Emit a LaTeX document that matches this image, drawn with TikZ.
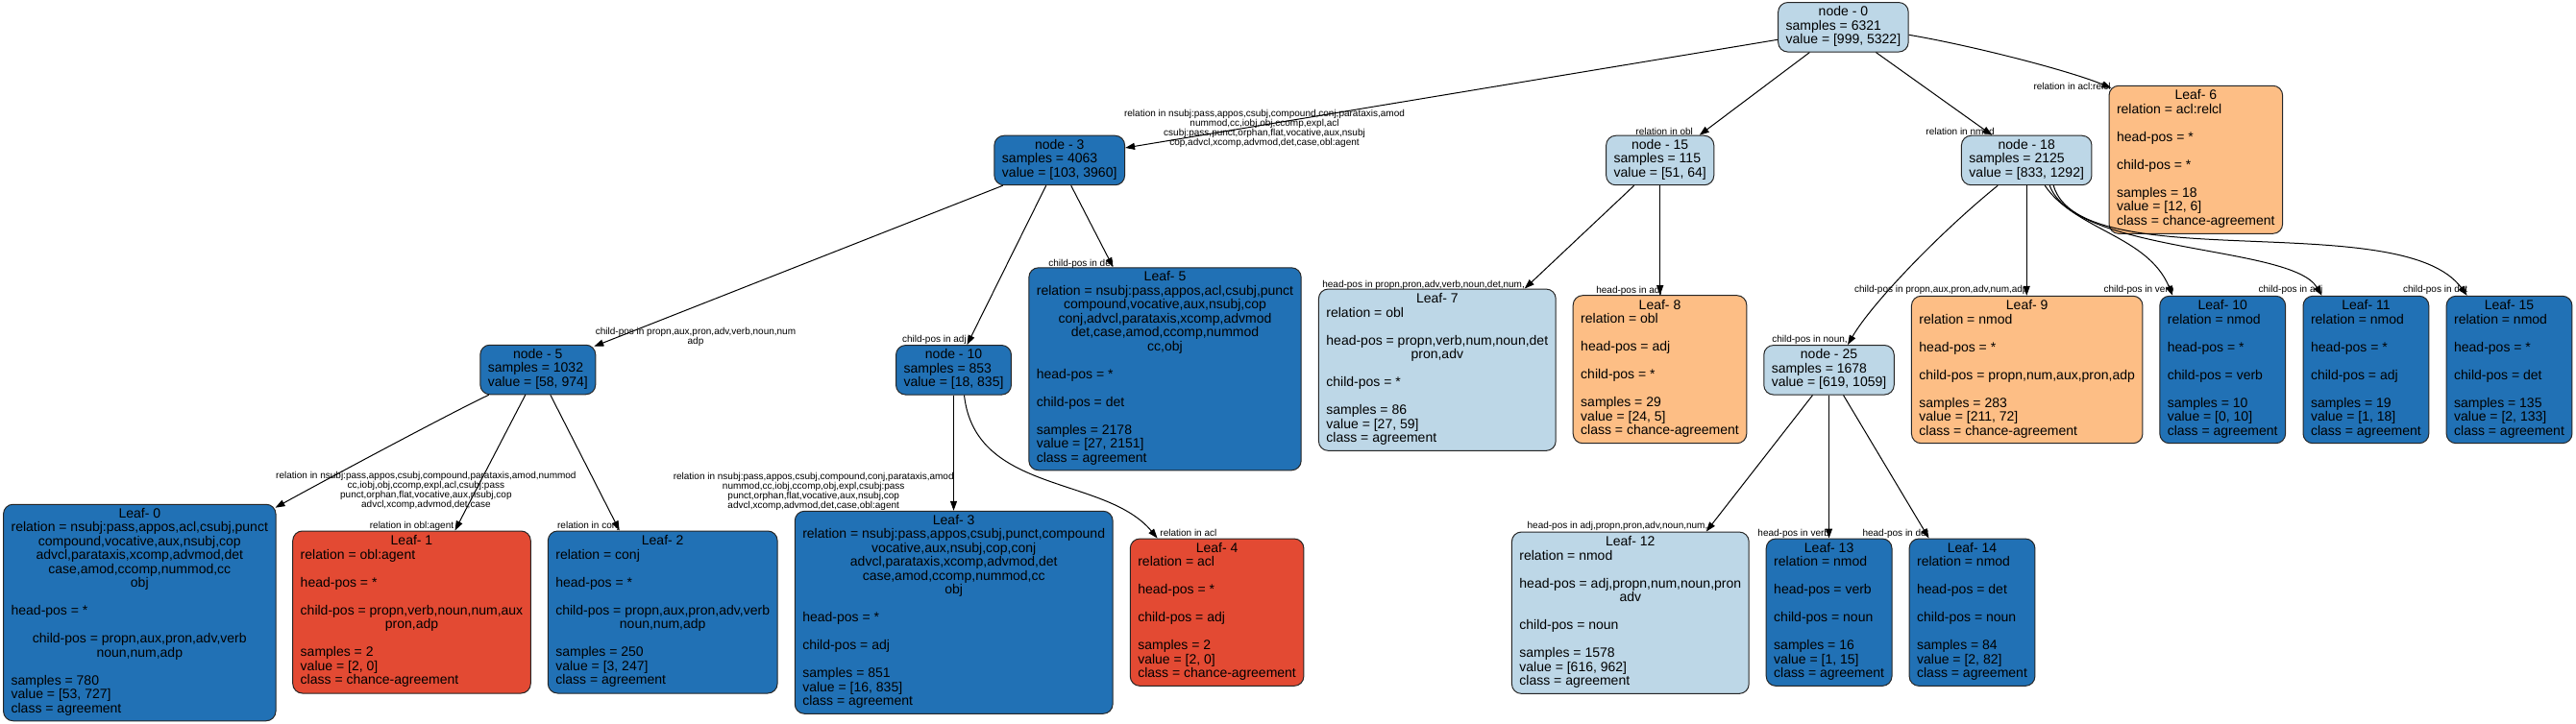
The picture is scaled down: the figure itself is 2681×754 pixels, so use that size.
\documentclass[tikz,border=0pt]{standalone}
\usepackage{fontspec}
\setmainfont{Liberation Sans}
\usetikzlibrary{arrows.meta,calc}
\definecolor{dkblue}{HTML}{2171B5}
\definecolor{ltblue}{HTML}{BDD7E7}
\definecolor{orng}{HTML}{FDBE85}
\definecolor{redc}{HTML}{E34A33}
\newcommand\nodefont{\fontsize{14pt}{14.5pt}\selectfont}
\newcommand\labfont{\fontsize{10pt}{10pt}\selectfont}
\newcommand\CL[1]{\multicolumn{1}{@{}c@{}}{#1}}
\newcommand\TB[1]{\begin{tabular}{@{}l@{}}#1\end{tabular}}
\tikzset{
  box/.style={draw=black!85, line width=1pt, rounded corners=10pt, inner xsep=8pt, inner ysep=4pt, font=\nodefont, text=black},
  dkbox/.style={box, fill=dkblue},
  ltbox/.style={box, fill=ltblue},
  orbox/.style={box, fill=orng},
  rdbox/.style={box, fill=redc},
  lab/.style={font=\labfont, align=center, inner sep=0pt, text=black},
  edge/.style={line width=1pt, draw=black, -{Triangle[length=10pt,width=7pt]}}
}
\begin{document}
\begin{tikzpicture}[x=1pt,y=-1pt]
\useasboundingbox (0,0) rectangle (2681,754);
\fill[white] (0,0) rectangle (2681,754);

% ---- internal nodes
\node[ltbox, minimum width=135pt, minimum height=50pt] (n0) at (1918.4,28.3)
  {\TB{\CL{node - 0}\\samples = 6321\\value = [999, 5322]}};
\node[dkbox, minimum width=135.7pt, minimum height=50.6pt] (n3) at (1102.7,167)
  {\TB{\CL{node - 3}\\samples = 4063\\value = [103, 3960]}};
\node[ltbox, minimum width=111.6pt, minimum height=50.6pt] (n15) at (1727.7,167)
  {\TB{\CL{node - 15}\\samples = 115\\value = [51, 64]}};
\node[ltbox, minimum width=135.3pt, minimum height=50.6pt] (n18) at (2109.2,167)
  {\TB{\CL{node - 18}\\samples = 2125\\value = [833, 1292]}};
\node[dkbox, minimum width=119.6pt, minimum height=50pt] (n5) at (559.8,385)
  {\TB{\CL{node - 5}\\samples = 1032\\value = [58, 974]}};
\node[dkbox, minimum width=119pt, minimum height=49.3pt] (n10) at (992.5,385.3)
  {\TB{\CL{node - 10}\\samples = 853\\value = [18, 835]}};
\node[ltbox, minimum width=135pt, minimum height=50pt] (n25) at (1903.5,385.3)
  {\TB{\CL{node - 25}\\samples = 1678\\value = [619, 1059]}};

% ---- leaves, upper row
\node[orbox, minimum width=179.5pt, minimum height=154pt] (L6) at (2285.3,166.3)
  {\TB{\CL{Leaf- 6}\\relation = acl:relcl\\\\head-pos = *\\\\child-pos = *\\\\samples = 18\\value = [12, 6]\\class = chance-agreement}};
\node[dkbox, minimum width=283pt, minimum height=210pt] (L5) at (1212.5,384.3)
  {\TB{\CL{Leaf- 5}\\\CL{relation = nsubj:pass,appos,acl,csubj,punct}\\\CL{compound,vocative,aux,nsubj,cop}\\\CL{conj,advcl,parataxis,xcomp,advmod}\\\CL{det,case,amod,ccomp,nummod}\\\CL{cc,obj}\\\\head-pos = *\\\\child-pos = det\\\\samples = 2178\\value = [27, 2151]\\class = agreement}};
\node[ltbox, minimum width=246.3pt, minimum height=168.3pt] (L7) at (1495.8,385.2)
  {\TB{\CL{Leaf- 7}\\relation = obl\\\\\CL{head-pos = propn,verb,num,noun,det}\\\CL{pron,adv}\\\\child-pos = *\\\\samples = 86\\value = [27, 59]\\class = agreement}};
\node[orbox, minimum width=179.6pt, minimum height=154pt] (L8) at (1727.5,384.7)
  {\TB{\CL{Leaf- 8}\\relation = obl\\\\head-pos = adj\\\\child-pos = *\\\\samples = 29\\value = [24, 5]\\class = chance-agreement}};
\node[orbox, minimum width=238pt, minimum height=153.4pt] (L9) at (2109.7,385)
  {\TB{\CL{Leaf- 9}\\relation = nmod\\\\head-pos = *\\\\\CL{child-pos = propn,num,aux,pron,adp}\\\\samples = 283\\value = [211, 72]\\class = chance-agreement}};
\node[dkbox, minimum width=129.6pt, minimum height=153.4pt] (L10) at (2313.2,385)
  {\TB{\CL{Leaf- 10}\\relation = nmod\\\\head-pos = *\\\\child-pos = verb\\\\samples = 10\\value = [0, 10]\\class = agreement}};
\node[dkbox, minimum width=129.6pt, minimum height=153.4pt] (L11) at (2462.4,385)
  {\TB{\CL{Leaf- 11}\\relation = nmod\\\\head-pos = *\\\\child-pos = adj\\\\samples = 19\\value = [1, 18]\\class = agreement}};
\node[dkbox, minimum width=129.6pt, minimum height=153.4pt] (L15) at (2611.5,385)
  {\TB{\CL{Leaf- 15}\\relation = nmod\\\\head-pos = *\\\\child-pos = det\\\\samples = 135\\value = [2, 133]\\class = agreement}};

% ---- leaves, lower row
\node[dkbox, minimum width=283.4pt, minimum height=224pt] (L0) at (145.3,638)
  {\TB{\CL{Leaf- 0}\\\CL{relation = nsubj:pass,appos,acl,csubj,punct}\\\CL{compound,vocative,aux,nsubj,cop}\\\CL{advcl,parataxis,xcomp,advmod,det}\\\CL{case,amod,ccomp,nummod,cc}\\\CL{obj}\\\\head-pos = *\\\\\CL{child-pos = propn,aux,pron,adv,verb}\\\CL{noun,num,adp}\\\\samples = 780\\value = [53, 727]\\class = agreement}};
\node[rdbox, minimum width=247pt, minimum height=169pt] (L1) at (428.5,637.5)
  {\TB{\CL{Leaf- 1}\\relation = obl:agent\\\\head-pos = *\\\\\CL{child-pos = propn,verb,noun,num,aux}\\\CL{pron,adp}\\\\samples = 2\\value = [2, 0]\\class = chance-agreement}};
\node[dkbox, minimum width=238pt, minimum height=169pt] (L2) at (689.7,637.5)
  {\TB{\CL{Leaf- 2}\\relation = conj\\\\head-pos = *\\\\\CL{child-pos = propn,aux,pron,adv,verb}\\\CL{noun,num,adp}\\\\samples = 250\\value = [3, 247]\\class = agreement}};
\node[dkbox, minimum width=330pt, minimum height=209.7pt] (L3) at (992.7,637.8)
  {\TB{\CL{Leaf- 3}\\\CL{relation = nsubj:pass,appos,csubj,punct,compound}\\\CL{vocative,aux,nsubj,cop,conj}\\\CL{advcl,parataxis,xcomp,advmod,det}\\\CL{case,amod,ccomp,nummod,cc}\\\CL{obj}\\\\head-pos = *\\\\child-pos = adj\\\\samples = 851\\value = [16, 835]\\class = agreement}};
\node[rdbox, minimum width=179.4pt, minimum height=153.3pt] (L4) at (1266.6,637.7)
  {\TB{\CL{Leaf- 4}\\relation = acl\\\\head-pos = *\\\\child-pos = adj\\\\samples = 2\\value = [2, 0]\\class = chance-agreement}};
\node[ltbox, minimum width=246pt, minimum height=168.3pt] (L12) at (1696.8,638.2)
  {\TB{\CL{Leaf- 12}\\relation = nmod\\\\\CL{head-pos = adj,propn,num,noun,pron}\\\CL{adv}\\\\child-pos = noun\\\\samples = 1578\\value = [616, 962]\\class = agreement}};
\node[dkbox, minimum width=129.4pt, minimum height=153.3pt] (L13) at (1903.6,637.7)
  {\TB{\CL{Leaf- 13}\\relation = nmod\\\\head-pos = verb\\\\child-pos = noun\\\\samples = 16\\value = [1, 15]\\class = agreement}};
\node[dkbox, minimum width=130pt, minimum height=153.3pt] (L14) at (2052.5,637.7)
  {\TB{\CL{Leaf- 14}\\relation = nmod\\\\head-pos = det\\\\child-pos = noun\\\\samples = 84\\value = [2, 82]\\class = agreement}};

% ---- connectors
\draw[edge] ($(n0.west)+(0,13)$) -- ($(n3.east)+(0,-13)$);
\draw[edge] ($(n0.south)+(-35,0)$) -- ($(n15.north)+(41,0)$);
\draw[edge] ($(n0.south)+(34,0)$) -- ($(n18.north)+(-36,0)$);
\draw[edge] ($(n0.east)+(0,8)$) .. controls (2055,48) and (2155,74) .. ($(L6.north west)+(3,3)$);

\draw[edge] ($(n3.south)+(-59,0)$) -- ($(n5.north east)+(-2,2)$);
\draw[edge] ($(n3.south)+(-14,0)$) -- ($(n10.north)+(14,0)$);
\draw[edge] ($(n3.south)+(12,0)$) -- ($(L5.north)+(-54,0)$);

\draw[edge] ($(n5.south)+(-51,0)$) .. controls (469,430) and (331,504) .. ($(L0.north east)+(-1,4)$);
\draw[edge] ($(n5.south)+(-13,0)$) -- ($(L1.north)+(45,0)$);
\draw[edge] ($(n5.south)+(13,0)$) -- ($(L2.north)+(-45,0)$);

\draw[edge] (n10.south) -- (n10.south |- L3.north);
\draw[edge] ($(n10.south)+(11,0)$) .. controls (1015,515) and (1150,495) .. ($(L4.north)+(-62,0)$);

\draw[edge] ($(n15.south)+(-27,0)$) -- ($(L7.north)+(91,0)$);
\draw[edge] (n15.south) -- (n15.south |- L8.north);

\draw[edge] ($(n18.south)+(-30,0)$) .. controls (2019,242) and (1948,316) .. ($(n25.north)+(19.5,0)$);
\draw[edge] (n18.south) -- (n18.south |- L9.north);
\draw[edge] ($(n18.south)+(19,0)$) .. controls (2160,240) and (2235,245) .. ($(L10.north)+(-52,0)$);
\draw[edge] ($(n18.south)+(24,0)$) .. controls (2160,265) and (2385,255) .. ($(L11.north)+(-46,0)$);
\draw[edge] ($(n18.south)+(28,0)$) .. controls (2165,290) and (2500,215) .. ($(L15.north)+(-44,0)$);

\draw[edge] ($(n25.south)+(-17,0)$) -- ($(L12.north)+(79,0)$);
\draw[edge] (n25.south) -- (n25.south |- L13.north);
\draw[edge] ($(n25.south)+(15,0)$) -- ($(L14.north)+(-45,0)$);

% ---- connector labels
\node[lab] (lab1) at (1316,134.3) {relation in nsubj:pass,appos,csubj,compound,conj,parataxis,amod\\nummod,cc,iobj,obj,ccomp,expl,acl\\csubj:pass,punct,orphan,flat,vocative,aux,nsubj\\cop,advcl,xcomp,advmod,det,case,obl:agent};
\node[lab] (lab2) at (1732.2,136.7) {relation in obl};
\node[lab] (lab3) at (2040,136.7) {relation in nmod};
\node[lab] (lab4) at (2156.5,90) {relation in acl:relcl};
\node[lab] (lab5) at (724,350.7) {child-pos in propn,aux,pron,adv,verb,noun,num\\adp};
\node[lab] (lab6) at (972.4,354.3) {child-pos in adj};
\node[lab] (lab7) at (1125,275) {child-pos in det};
\node[lab] (lab8) at (443.4,511.3) {relation in nsubj:pass,appos,csubj,compound,parataxis,amod,nummod\\cc,iobj,obj,ccomp,expl,acl,csubj:pass\\punct,orphan,flat,vocative,aux,nsubj,cop\\advcl,xcomp,advmod,det,case};
\node[lab] (lab9) at (428.5,548.3) {relation in obl:agent};
\node[lab] (lab10) at (612.4,548.3) {relation in conj};
\node[lab] (lab11) at (846.7,512.3) {relation in nsubj:pass,appos,csubj,compound,conj,parataxis,amod\\nummod,cc,iobj,ccomp,obj,expl,csubj:pass\\punct,orphan,flat,vocative,aux,nsubj,cop\\advcl,xcomp,advmod,det,case,obl:agent};
\node[lab] (lab12) at (1236.9,555.3) {relation in acl};
\node[lab] (lab13) at (1481.6,296.7) {head-pos in propn,pron,adv,verb,noun,det,num,};
\node[lab] (lab14) at (1695.5,302.7) {head-pos in adj};
\node[lab] (lab15) at (1883.5,354.3) {child-pos in noun,};
\node[lab] (lab16) at (2020.3,302.3) {child-pos in propn,aux,pron,adv,num,adp};
\node[lab] (lab17) at (2226,302.3) {child-pos in verb};
\node[lab] (lab18) at (2384,302.3) {child-pos in adj};
\node[lab] (lab19) at (2534.6,302.3) {child-pos in det};
\node[lab] (lab20) at (1683.5,548.3) {head-pos in adj,propn,pron,adv,noun,num,};
\node[lab] (lab21) at (1866.7,555.7) {head-pos in verb};
\node[lab] (lab22) at (1973,555.7) {head-pos in det};
\end{tikzpicture}
\end{document}
